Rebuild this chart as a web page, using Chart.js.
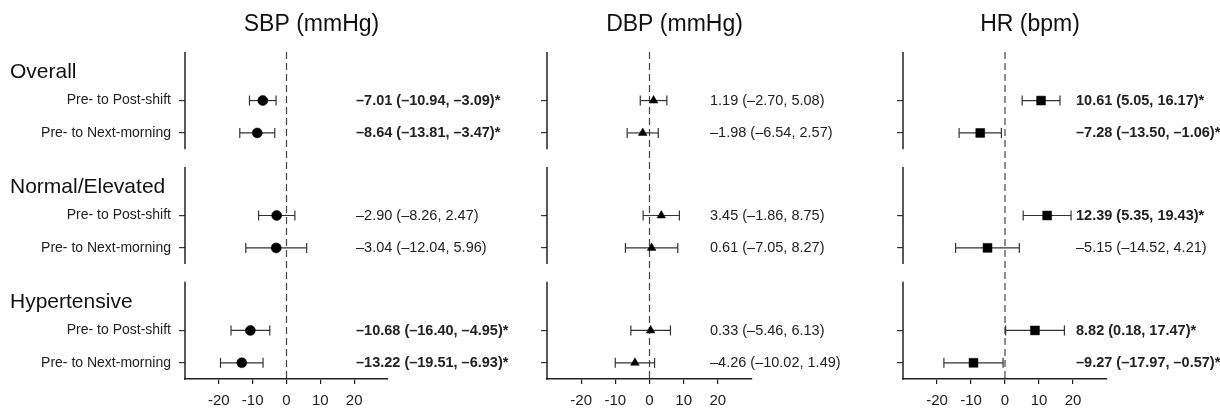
<!DOCTYPE html>
<html><head><meta charset="utf-8">
<script src="https://cdn.jsdelivr.net/npm/chart.js@4.4.1/dist/chart.umd.min.js"></script>
<style>
html,body{margin:0;padding:0;background:#fff;}
#wrap{position:relative;width:1220px;height:409px;overflow:hidden;background:#fff;}
canvas{position:absolute;top:0;}
</style></head><body>
<div id="wrap">
<canvas id="c0"></canvas><canvas id="c1"></canvas><canvas id="c2"></canvas>
</div>
<script>
// ---------- data ----------
const groups = ['Overall', 'Normal/Elevated', 'Hypertensive'];
const comparisons = ['Pre- to Post-shift', 'Pre- to Next-morning'];
const panelTitles = ['SBP (mmHg)', 'DBP (mmHg)', 'HR (bpm)'];
const xTicks = [-20, -10, 0, 10, 20];
// order: Overall post, Overall next, Normal post, Normal next, Hyper post, Hyper next
const sbpEst = [-7.01, -8.64, -2.90, -3.04, -10.68, -13.22];
const sbpLo  = [-10.94, -13.81, -8.26, -12.04, -16.40, -19.51];
const sbpHi  = [-3.09, -3.47, 2.47, 5.96, -4.95, -6.93];
const dbpEst = [1.19, -1.98, 3.45, 0.61, 0.33, -4.26];
const dbpLo  = [-2.70, -6.54, -1.86, -7.05, -5.46, -10.02];
const dbpHi  = [5.08, 2.57, 8.75, 8.27, 6.13, 1.49];
const hrEst  = [10.61, -7.28, 12.39, -5.15, 8.82, -9.27];
const hrLo   = [5.05, -13.50, 5.35, -14.52, 0.18, -17.97];
const hrHi   = [16.17, -1.06, 19.43, 4.21, 17.47, -0.57];

// ---------- layout helpers ----------
const FAM = '"Liberation Sans", Arial, Helvetica, sans-serif';
const GSTEP = 3.55, YMAX = 10.1;
const rowY = i => Math.floor(i / 2) * GSTEP + 1.5 + (i % 2);
const rowYs = sbpEst.map((_, i) => rowY(i));
const fmt = v => (v < 0 ? '\u2013' : '') + Math.abs(v).toFixed(2);

const panels = [
  {id:'c0', left:0,   width:540, yw:185, pr:152, est:sbpEst, lo:sbpLo, hi:sbpHi, marker:'circle',   r:5,   labels:true,  textOff:32, titleDx:25},
  {id:'c1', left:527, width:375, yw:20,  pr:150, est:dbpEst, lo:dbpLo, hi:dbpHi, marker:'triangle', r:5,   labels:false, textOff:42, titleDx:25},
  {id:'c2', left:883, width:337, yw:20,  pr:113, est:hrEst,  lo:hrLo,  hi:hrHi,  marker:'rect',     r:6.3, labels:false, textOff:31, titleDx:25}
];

const decor = {
  id: 'decor',
  afterDraw(chart) {
    const p = chart.options.plugins.decor;
    const {ctx, chartArea: a, scales: {x, y}} = chart;
    ctx.save();
    // segmented y-axis lines
    ctx.strokeStyle = '#222'; ctx.lineWidth = 1.5;
    groups.forEach((g, gi) => {
      const t = y.getPixelForValue(gi * GSTEP), b = y.getPixelForValue(gi * GSTEP + 3);
      ctx.beginPath(); ctx.moveTo(a.left, t); ctx.lineTo(a.left, b + (gi === 2 ? 0.75 : 0)); ctx.stroke();
    });
    // panel title
    ctx.fillStyle = '#111'; ctx.textBaseline = 'middle'; ctx.textAlign = 'center';
    ctx.font = '23px ' + FAM;
    ctx.fillText(p.title, x.getPixelForValue(0) + p.titleDx, 25);
    // group titles
    if (p.groupTitles) {
      ctx.textAlign = 'left';
      ctx.font = '21px ' + FAM;
      groups.forEach((g, gi) => ctx.fillText(g, 10, y.getPixelForValue(gi * GSTEP + 0.62)));
    }
    // estimate annotations
    ctx.textAlign = 'left'; ctx.fillStyle = '#222';
    p.est.forEach((e, i) => {
      const sig = p.lo[i] > 0 || p.hi[i] < 0;
      ctx.font = (sig ? 'bold ' : '') + '14.5px ' + FAM;
      const s = fmt(e) + ' (' + fmt(p.lo[i]) + ', ' + fmt(p.hi[i]) + ')' + (sig ? '*' : '');
      ctx.fillText(s, a.right - p.textOff, y.getPixelForValue(rowY(i)) + 0.5);
    });
    ctx.restore();
  }
};

panels.forEach((p, pi) => {
  const cv = document.getElementById(p.id);
  cv.width = p.width; cv.height = 409;
  cv.style.left = p.left + 'px'; cv.style.width = p.width + 'px'; cv.style.height = '409px';
  const ds = [];
  ds.push({data:[{x:0, y:0}, {x:0, y:YMAX}], showLine:true, borderColor:'#444', borderWidth:1.2,
           borderDash:[7, 4], pointRadius:0, order:3});
  p.est.forEach((e, i) => ds.push({
    data:[{x:p.lo[i], y:rowY(i)}, {x:p.hi[i], y:rowY(i)}], showLine:true,
    borderColor:'#333', borderWidth:1.2, pointStyle:'line', pointRotation:90, pointRadius:5,
    pointBorderColor:'#333', pointBorderWidth:1.2, order:2
  }));
  ds.push({data:p.est.map((e, i) => ({x:e, y:rowY(i)})), pointStyle:p.marker, pointRadius:p.r,
           backgroundColor:'#000', borderColor:'#000', borderWidth:0.5, order:1});
  new Chart(cv, {
    type:'scatter',
    data:{datasets:ds},
    plugins:[decor],
    options:{
      responsive:false, animation:false, events:[], devicePixelRatio:1,
      layout:{padding:{top:52, bottom:0, left:0, right:p.pr}},
      plugins:{legend:{display:false}, tooltip:{enabled:false},
        decor:{title:panelTitles[pi], titleDx:p.titleDx, groupTitles:p.labels, est:p.est, lo:p.lo, hi:p.hi, textOff:p.textOff}},
      scales:{
        x:{type:'linear', min:-30, max:30,
          afterBuildTicks:s => { s.ticks = xTicks.map(v => ({value:v})); },
          afterFit:s => { s.height = 30; },
          ticks:{font:{size:15, family:FAM}, color:'#222', padding:8, autoSkip:false, maxRotation:0},
          grid:{drawOnChartArea:false, tickLength:5, color:'#222', lineWidth:1.2},
          border:{display:true, color:'#222', width:1.5}},
        y:{type:'linear', reverse:true, min:0, max:YMAX,
          afterBuildTicks:s => { s.ticks = rowYs.map(v => ({value:v})); },
          afterFit:s => { s.width = p.yw; },
          ticks:{callback:(v, i) => p.labels ? comparisons[i % 2] : '', font:{size:14, family:FAM},
                 color:'#222', padding:8, autoSkip:false},
          grid:{drawOnChartArea:false, tickLength:6, color:'#333', lineWidth:1.2},
          border:{display:false}}
      }
    }
  });
});
</script>
</body></html>
